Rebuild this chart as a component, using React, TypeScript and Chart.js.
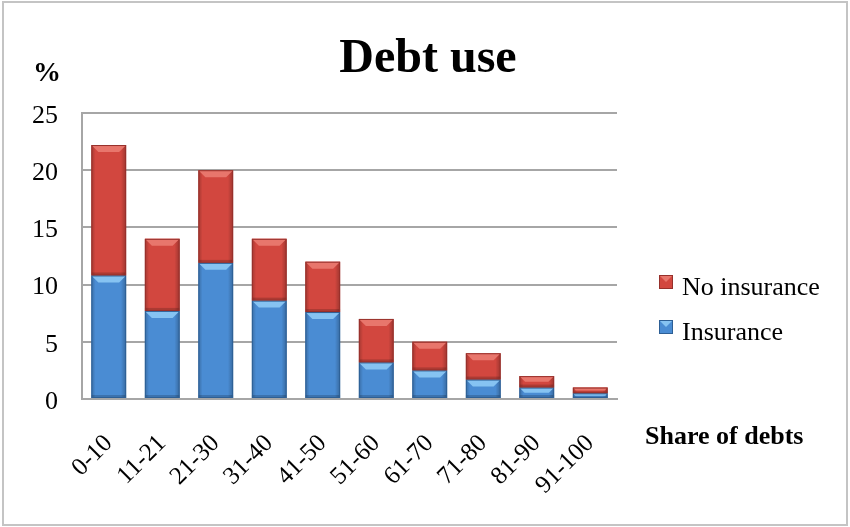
import { useEffect, useRef } from "react";
import { Chart, registerables } from "chart.js";

Chart.register(...registerables);

const categories = ["0-10", "11-21", "21-30", "31-40", "41-50", "51-60", "61-70", "71-80", "81-90", "91-100"];
const insurance = [10.8, 7.7, 11.9, 8.6, 7.6, 3.2, 2.5, 1.7, 1.0, 0.5];
const noInsurance = [11.4, 6.3, 8.1, 5.4, 4.4, 3.8, 2.5, 2.3, 1.0, 0.5];
const seriesNames = ["Insurance", "No insurance"];
const yMin = 0;
const yMax = 25;
const yStep = 5;
const titleText = "Debt use";
const yTitle = "%";
const xTitle = "Share of debts";

const SERIF = "'Liberation Serif', 'Times New Roman', serif";
const BLUE = { main: "#4a8cd3", light: "#86c3f2", dark: "#2d5f95" };
const RED = { main: "#d2473f", light: "#e8766c", dark: "#96302b" };

const bevelPlugin = {
  id: "bevel",
  afterDatasetsDraw(chart: any) {
    const ctx = chart.ctx;
    chart.data.datasets.forEach((ds: any, di: number) => {
      const meta = chart.getDatasetMeta(di);
      const pal = di === 0 ? BLUE : RED;
      meta.data.forEach((bar: any) => {
        const w = bar.width;
        const left = bar.x - w / 2;
        const right = bar.x + w / 2;
        const top = Math.min(bar.y, bar.base);
        const bottom = Math.max(bar.y, bar.base);
        const h = bottom - top;
        if (h <= 0) return;
        ctx.save();
        const g = ctx.createLinearGradient(left, 0, right, 0);
        g.addColorStop(0, "rgba(0,0,0,0.22)");
        g.addColorStop(0.12, "rgba(0,0,0,0.0)");
        g.addColorStop(0.85, "rgba(0,0,0,0.0)");
        g.addColorStop(1, "rgba(0,0,0,0.25)");
        ctx.fillStyle = g;
        ctx.fillRect(left, top, w, h);
        const b = Math.min(7, h / 2);
        ctx.beginPath();
        ctx.moveTo(left, top);
        ctx.lineTo(right, top);
        ctx.lineTo(right - b, top + b);
        ctx.lineTo(left + b, top + b);
        ctx.closePath();
        ctx.fillStyle = pal.light;
        ctx.fill();
        const bb = Math.min(3, h / 3);
        ctx.fillStyle = "rgba(0,0,0,0.18)";
        ctx.fillRect(left, bottom - bb, w, bb);
        ctx.strokeStyle = pal.dark;
        ctx.lineWidth = 1;
        ctx.strokeRect(left + 0.5, top + 0.5, w - 1, h - 1);
        ctx.restore();
      });
    });
  },
};

const decoPlugin = {
  id: "deco",
  beforeDraw(chart: any) {
    const ctx = chart.ctx;
    ctx.save();
    ctx.fillStyle = "#ffffff";
    ctx.fillRect(0, 0, chart.width, chart.height);
    ctx.strokeStyle = "#c4c4c4";
    ctx.lineWidth = 2;
    ctx.strokeRect(3, 2, chart.width - 6, chart.height - 4);
    ctx.restore();
  },
  afterDraw(chart: any) {
    const ctx = chart.ctx;
    ctx.save();
    ctx.fillStyle = "#000000";
    ctx.textBaseline = "alphabetic";
    ctx.font = `bold 48px ${SERIF}`;
    ctx.textAlign = "center";
    ctx.fillText(titleText, 428, 72);
    ctx.font = `bold 28px ${SERIF}`;
    ctx.fillText(yTitle, 47, 81);
    ctx.font = `bold 26px ${SERIF}`;
    ctx.textAlign = "left";
    ctx.fillText(xTitle, 645, 444);
    const items = chart.data.datasets.map((d: any, i: number) => ({ label: d.label, pal: i === 0 ? BLUE : RED })).reverse();
    items.forEach((it: any, i: number) => {
      const by = 275 + i * 45;
      const bx = 659;
      const s = 14;
      ctx.fillStyle = it.pal.main;
      ctx.fillRect(bx, by, s, s);
      ctx.beginPath();
      ctx.moveTo(bx, by);
      ctx.lineTo(bx + s, by);
      ctx.lineTo(bx + s / 2, by + s / 2);
      ctx.closePath();
      ctx.fillStyle = it.pal.light;
      ctx.fill();
      ctx.strokeStyle = it.pal.dark;
      ctx.lineWidth = 1;
      ctx.strokeRect(bx + 0.5, by + 0.5, s - 1, s - 1);
      ctx.fillStyle = "#000000";
      ctx.font = `26px ${SERIF}`;
      ctx.fillText(it.label, 682, 295 + i * 45);
    });
    ctx.restore();
  },
};

export default function App() {
  const ref = useRef<HTMLCanvasElement | null>(null);
  useEffect(() => {
    if (!ref.current) return;
    const chart = new Chart(ref.current, {
      type: "bar",
      data: {
        labels: categories,
        datasets: [
          { label: seriesNames[0], data: insurance, backgroundColor: BLUE.main, borderWidth: 0 },
          { label: seriesNames[1], data: noInsurance, backgroundColor: RED.main, borderWidth: 0 },
        ],
      },
      options: {
        animation: false,
        responsive: false,
        maintainAspectRatio: false,
        layout: { padding: { left: 0, right: 233, top: 113, bottom: 0 } },
        datasets: { bar: { categoryPercentage: 1, barPercentage: 0.65 } },
        plugins: {
          legend: { display: false },
          title: { display: false },
          tooltip: { enabled: false },
        },
        scales: {
          x: {
            stacked: true,
            grid: { display: false },
            border: { display: true, color: "#a6a6a6", width: 2 },
            ticks: {
              color: "#000",
              font: { family: SERIF, size: 25 },
              minRotation: 45,
              maxRotation: 45,
              padding: 22,
            },
            afterFit: (s: any) => { s.height = 128; },
          },
          y: {
            stacked: true,
            min: yMin,
            max: yMax,
            ticks: { stepSize: yStep, color: "#000", font: { family: SERIF, size: 26 }, padding: 24, labelOffset: 3 },
            grid: { color: "#a6a6a6", lineWidth: 2, drawTicks: false },
            border: { display: true, color: "#a6a6a6", width: 2 },
            afterFit: (s: any) => { s.width = 82; },
          },
        },
      },
      plugins: [decoPlugin, bevelPlugin],
    });
    return () => chart.destroy();
  }, []);
  return (
    <div style={{ position: "fixed", left: 0, top: 0, width: 850, height: 527 }}>
      <canvas ref={ref} width={850} height={527} style={{ display: "block" }} />
    </div>
  );
}
